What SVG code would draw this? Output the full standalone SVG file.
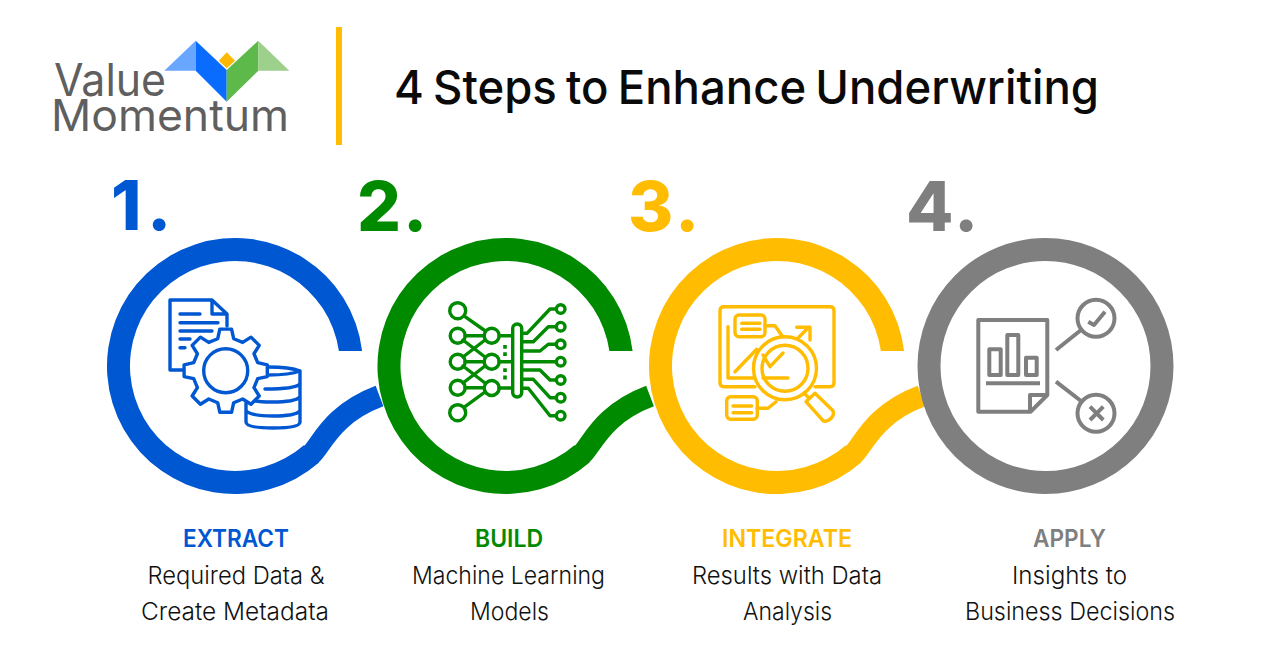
<svg xmlns="http://www.w3.org/2000/svg" xmlns:xlink="http://www.w3.org/1999/xlink" width="1280" height="672" viewBox="0 0 1280 672">
<style>
text{font-family:Inter,"Liberation Sans",sans-serif}
.tail{fill:none;stroke-width:22}
.ic{fill:none;stroke-width:3.4;stroke-linejoin:round;stroke-linecap:round}
.num{font-size:69px;font-weight:800}
.head{font-size:24px;font-weight:600;text-anchor:middle}
.sub{font-size:24px;font-weight:300;text-anchor:middle;fill:#111}
.blue{stroke:#0057d2}.green{stroke:#008a00}.yellow{stroke:#ffbc00}.gray{stroke:#7f7f7f}
</style>
<defs>
<path id="ring" d="M127.100 -15A128 128 0 1 0 84 96.600L68.900 79.200A105 105 0 1 1 103.900 -15Z"/>
<path id="tail" d="M65 96.700A116.500 116.500 0 0 0 76.500 88C86.500 79 96.500 48 144.500 30"/>
</defs>
<rect width="1280" height="672" fill="#fff"/>
<g id="logo">
<polygon points="164.300,70.700 195.700,40.700 195.700,70.700" fill="#69a6ff"/>
<polygon points="195.700,40.700 226.700,70 226.700,101.700 195.700,70.700" fill="#0a6cff"/>
<polygon points="258.300,40.700 258.300,70.700 226.700,101.700 226.700,70" fill="#5db94a"/>
<polygon points="258.300,40.700 289.300,70.700 258.300,70.700" fill="#9dd08a"/>
<polygon points="226.700,52.300 235,60.700 226.700,68.300 218.700,60.700" fill="#fdb900"/>
<text x="54" y="96" font-size="45" font-weight="400" fill="#5f5f5f" textLength="112" lengthAdjust="spacingAndGlyphs">Value</text>
<text x="51" y="131" font-size="44" font-weight="400" fill="#5f5f5f" textLength="238" lengthAdjust="spacingAndGlyphs">Momentum</text>
</g>
<rect id="divider" x="336" y="27" width="6" height="118" fill="#ffbc00"/>
<text id="title" x="394" y="104" font-size="47" font-weight="500" word-spacing="-3" fill="#0a0a0a" textLength="705" lengthAdjust="spacingAndGlyphs">4 Steps to Enhance Underwriting</text>
<g id="connectors">
<use href="#tail" class="tail blue" transform="translate(235 366)"/>
<use href="#tail" class="tail green" transform="translate(505.500 366)"/>
<use href="#tail" class="tail yellow" transform="translate(777 366)"/>
</g>
<g id="step-1">
<text class="num" y="230" fill="#0057d2"><tspan x="111">1</tspan><tspan x="147">.</tspan></text>
<use href="#ring" fill="#0057d2" transform="translate(235 366)"/>
<g class="ic blue">
<path d="M184 370H170V300H212L227 314V326M212 300V314H227"/>
<path d="M180 314H200M180 322.700H218M180 331H212M180 339H190M180 347.700H185"/>
<path d="M268 367Q290 367 300 371V422Q300 428 273 428Q246 428 246 422V403M268 375Q290 375 300 371M300 384Q295 389 265 389M300 397Q295 402 272 402Q252 402 247 398M300 411Q295 416 273 416Q252 416 246 411"/>
<polygon fill="#fff" transform="translate(225.700 370.700)" points="-8,-32 -5.850,-41.600 5.850,-41.600 8,-32 16.970,-28.280 25.280,-33.550 33.550,-25.280 28.280,-16.970 32,-8 41.600,-5.850 41.600,5.850 32,8 28.280,16.970 33.550,25.280 25.280,33.550 16.970,28.280 8,32 5.850,41.600 -5.850,41.600 -8,32 -16.970,28.280 -25.280,33.550 -33.550,25.280 -28.280,16.970 -32,8 -41.600,5.850 -41.600,-5.850 -32,-8 -28.280,-16.970 -33.550,-25.280 -25.280,-33.550 -16.970,-28.280"/>
<circle cx="225.700" cy="370.700" r="22"/>
</g>
<text class="head" x="236" y="547" fill="#0057d2" textLength="106" lengthAdjust="spacingAndGlyphs">EXTRACT</text>
<text class="sub" x="236" y="584" textLength="177" lengthAdjust="spacingAndGlyphs">Required Data &amp;</text>
<text class="sub" x="235" y="620" textLength="188" lengthAdjust="spacingAndGlyphs">Create Metadata</text>
</g>
<g id="step-2">
<text class="num" y="231" fill="#008a00"><tspan x="357">2</tspan><tspan x="403">.</tspan></text>
<use href="#ring" fill="#008a00" transform="translate(505.500 366)"/>
<g class="ic green">
<circle cx="457.700" cy="310.700" r="8"/><circle cx="457.700" cy="335.700" r="7.500"/><circle cx="457.700" cy="361.700" r="7.500"/><circle cx="457.700" cy="387.700" r="7.500"/><circle cx="457.700" cy="412.700" r="8"/>
<circle cx="491.700" cy="335.700" r="7.500"/><circle cx="491.700" cy="361.700" r="7.500"/><circle cx="491.700" cy="388" r="7.500"/>
<rect x="512.700" y="324" width="9" height="73" rx="4.500"/>
<path d="M465 316.700L484 330M465 406.700L485 392M465 335.700H484M465 361.700H484M465 387.700H484M463 340L485 357M485 340L463 357M463 366L485 383M485 366L463 383M499 335.700H512M499 361.700H512M499 388H512"/>
<path d="M505 346.700V347M505 354V354.300M505 370V370.300M505 377.300V377.600" stroke-width="3.600" stroke-linecap="square"/>
<circle cx="560.700" cy="309" r="4.300"/><circle cx="560.700" cy="326.700" r="4.300"/><circle cx="560.700" cy="344.300" r="4.300"/><circle cx="560.700" cy="361.700" r="4.300"/><circle cx="560.700" cy="380" r="4.300"/><circle cx="560.700" cy="397.700" r="4.300"/><circle cx="560.700" cy="415.700" r="4.300"/>
<path d="M522 333.300H527L550 309H556M522 341.700H533.300L548.300 326.700H556M522 351H540L548.300 344.300H556M522 361.700H556M522 370H540L550 380H556M522 379.300H533.300L550 397.700H556M522 388.300H528.300L550 415.700H556"/>
</g>
<text class="head" x="509" y="547" fill="#008a00" textLength="68" lengthAdjust="spacingAndGlyphs">BUILD</text>
<text class="sub" x="508.500" y="584" textLength="193" lengthAdjust="spacingAndGlyphs">Machine Learning</text>
<text class="sub" x="509.500" y="620" textLength="79" lengthAdjust="spacingAndGlyphs">Models</text>
</g>
<g id="step-3">
<text class="num" y="231" fill="#ffbc00"><tspan x="628">3</tspan><tspan x="675">.</tspan></text>
<use href="#ring" fill="#ffbc00" transform="translate(777 366)"/>
<g class="ic yellow">
<path d="M755 386.700H724Q720 386.700 720 382.700V310.700Q720 306.700 724 306.700H830Q834 306.700 834 310.700V382.700Q834 386.700 830 386.700H815"/>
<path d="M728 326.700V378H760"/>
<rect x="735" y="315" width="30" height="21.700" rx="4"/>
<path d="M741.700 323.300H760M741.700 329.300H760M765 325.700H775L785 340"/>
<path d="M735 371.700L756.700 349.300L761 353M795 341L808 328M796.700 327.300H810V340"/>
<circle cx="785" cy="368.300" r="31.500" fill="#fff"/><circle cx="785" cy="368.300" r="23"/>
<path d="M763 355L770 366.700L783 353M763 378H788"/>
<path d="M804 393L808 397M806 401.700L815 393.300L833 410.700Q835 416 829 420Q825 422 823 420.700Z"/>
<rect x="726.700" y="396.700" width="30.600" height="22.600" rx="4"/>
<path d="M733 406H751.700M733 412.700H751.700M757 408.300H768L776 401.700"/>
</g>
<text class="head" x="787" y="547" fill="#ffbc00" textLength="130" lengthAdjust="spacingAndGlyphs">INTEGRATE</text>
<text class="sub" x="787" y="584" textLength="190" lengthAdjust="spacingAndGlyphs">Results with Data</text>
<text class="sub" x="787.500" y="620" textLength="89" lengthAdjust="spacingAndGlyphs">Analysis</text>
</g>
<g id="step-4">
<text class="num" y="231" fill="#7f7f7f"><tspan x="906">4</tspan><tspan x="954">.</tspan></text>
<circle fill="none" stroke="#7f7f7f" stroke-width="23" cx="1045.500" cy="366" r="116.500"/>
<g class="ic gray" style="stroke-width:4;stroke-linecap:butt">
<path d="M978.300 320H1047.300V395L1030.700 411.700H978.300ZM1047.300 395H1030V411.700"/>
<rect x="989.300" y="349.300" width="11.400" height="25.700"/><rect x="1007.300" y="335" width="11" height="40"/><rect x="1026" y="357.700" width="10.700" height="17.300"/>
<path d="M986 383.300H1040"/>
<circle cx="1096" cy="318.300" r="18.500"/><circle cx="1096" cy="413.300" r="18.500"/>
<path d="M1056 350L1081 330M1056 381.700L1081 401M1088.300 321.700L1094 325L1105 311.700M1090 406.700L1103.300 420M1103.300 406.700L1090 420"/>
</g>
<text class="head" x="1069.500" y="547" fill="#7f7f7f" textLength="73" lengthAdjust="spacingAndGlyphs">APPLY</text>
<text class="sub" x="1069.500" y="584" textLength="115" lengthAdjust="spacingAndGlyphs">Insights to</text>
<text class="sub" x="1070" y="620" textLength="210" lengthAdjust="spacingAndGlyphs">Business Decisions</text>
</g>
</svg>
